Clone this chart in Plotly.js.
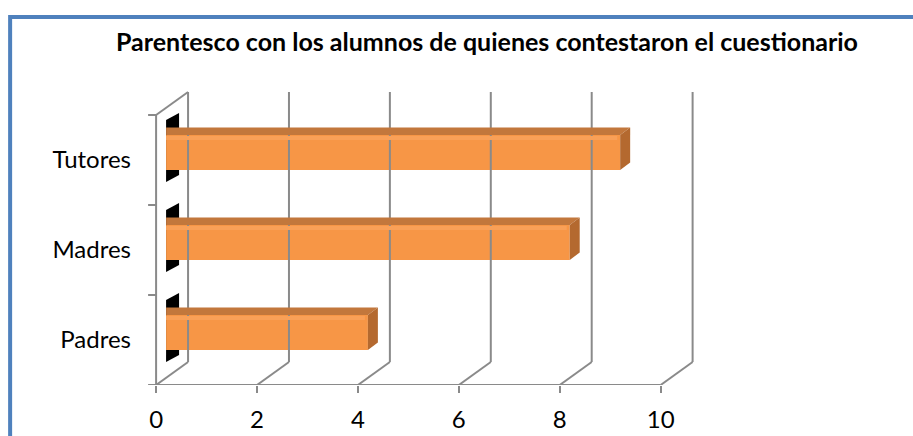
<!DOCTYPE html>
<html>
<head>
<meta charset="utf-8">
<script src="https://cdn.plot.ly/plotly-3.0.1.min.js"></script>
<style>
    html, body { margin: 0; padding: 0; background: #ffffff; }
    #chart { width: 913px; height: 436px; }
</style>
</head>
<body>
<div id="chart"></div>
<script>
const categories = ['Padres', 'Madres', 'Tutores'];
const values = [4, 8, 9];
const xTicks = [0, 2, 4, 6, 8, 10];
const chartTitle = 'Parentesco con los alumnos de quienes contestaron el cuestionario';

// pixel geometry of the plot area (x: 0..10 -> 156..661, one category = 90px)
const MARGIN = { l: 146, r: 211.5, t: 85, b: 51 };
const PX_X = 50.5;
const PX_Y = 90;
const X_RANGE = [-0.2, 10.8];
const Y_RANGE = [-0.5, -0.5 + 300 / PX_Y];

// 3d offsets, in data units
const WALL_DX = 32 / PX_X;
const WALL_DY = 23 / PX_Y;
const BAR_DX = 10 / PX_X;
const BAR_RISE = 7.5 / PX_Y;
const BAR_WIDTH = 35 / PX_Y;
const CAP_DX = 10 / PX_X;
const CAP_DY = 7.5 / PX_Y;

const GRID_COLOR = '#8a8a8a';
const BAR_COLOR = '#f79646';
const TOP_COLOR = '#c2773c';
const SIDE_COLOR = '#b4692f';

const yBottom = -0.5;
const yTop = categories.length - 0.5;

function line(x0, y0, x1, y1) {
    return {
        type: 'line', xref: 'x', yref: 'y',
        x0, y0, x1, y1,
        line: { color: GRID_COLOR, width: 2 },
    };
}

function poly(points, color, layer) {
    const d = points.map((p, i) => `${i === 0 ? 'M' : 'L'}${p[0]},${p[1]}`).join(' ') + ' Z';
    return {
        type: 'path', xref: 'x', yref: 'y', path: d,
        fillcolor: color, line: { width: 0 }, layer: layer || 'above',
    };
}

const shapes = [];

// back wall gridlines and floor diagonals
xTicks.forEach((t) => {
    shapes.push(line(t, yBottom, t + WALL_DX, yBottom + WALL_DY));
    shapes.push(line(t + WALL_DX, yBottom + WALL_DY, t + WALL_DX, yTop + WALL_DY));
});

// floor front edge, left wall
shapes.push(line(xTicks[0], yBottom, xTicks[xTicks.length - 1], yBottom));
shapes.push(line(0, yBottom, 0, yTop));
shapes.push(line(0, yTop, WALL_DX, yTop + WALL_DY));
for (let k = 0; k <= categories.length; k += 1) {
    shapes.push(line(-8 / PX_X, yBottom + k, 0, yBottom + k));
}

// dark end caps behind bars, then top and side faces
categories.forEach((cat, i) => {
    const xl = BAR_DX;
    const xr = BAR_DX + 13 / PX_X;
    const cl = i + 9 / PX_Y;
    const cr = i + 16 / PX_Y;
    const h = 31 / PX_Y;
    shapes.push(poly([[xl, cl + h], [xr, cr + h], [xr, cr - h], [xl, cl - h]], '#000000', 'below'));

    const x0 = BAR_DX;
    const x1 = BAR_DX + values[i];
    const top = i + BAR_RISE + BAR_WIDTH / 2;
    const bottom = i + BAR_RISE - BAR_WIDTH / 2;
    shapes.push(poly([[x0, top], [x1, top], [x1 + CAP_DX, top + CAP_DY], [x0, top + CAP_DY]], TOP_COLOR));
    shapes.push(poly([[x1, top], [x1 + CAP_DX, top + CAP_DY], [x1 + CAP_DX, bottom + CAP_DY], [x1, bottom]], SIDE_COLOR));
    shapes.push(poly([[x0, top - 1 / PX_Y], [x1 - 3 / PX_X, top - 1 / PX_Y], [x1 - 3 / PX_X, top - 5 / PX_Y], [x0, top - 5 / PX_Y]], '#f9a058'));
});

// blue frame around the chart
const plotW = 913 - MARGIN.l - MARGIN.r;
const plotH = 436 - MARGIN.t - MARGIN.b;
shapes.push({
    type: 'rect', xref: 'paper', yref: 'paper',
    x0: (10 - MARGIN.l) / plotW,
    x1: (930 - MARGIN.l) / plotW,
    y0: (385 - 450) / plotH,
    y1: (385 - 17) / plotH,
    line: { color: '#4f81bd', width: 4 },
});

const data = [{
    type: 'bar',
    orientation: 'h',
    x: values,
    base: BAR_DX,
    y: categories.map((c, i) => i + BAR_RISE),
    width: BAR_WIDTH,
    marker: { color: BAR_COLOR, line: { width: 0 } },
    hoverinfo: 'skip',
}];

const layout = {
    width: 913,
    height: 436,
    margin: MARGIN,
    paper_bgcolor: '#ffffff',
    plot_bgcolor: 'rgba(0,0,0,0)',
    showlegend: false,
    font: { family: 'Lato, sans-serif', size: 24, color: '#000000' },
    title: {
        text: chartTitle,
        font: { family: 'Lato, sans-serif', size: 25, color: '#000000', weight: 'bold' },
        xref: 'container', yref: 'container',
        x: 487 / 913, xanchor: 'center',
        y: 1 - 42 / 436, yanchor: 'middle',
    },
    xaxis: {
        range: X_RANGE,
        tickvals: xTicks,
        ticktext: xTicks.map(String),
        showgrid: false,
        zeroline: false,
        showline: false,
        ticks: 'outside',
        ticklen: 7,
        tickwidth: 2,
        tickcolor: GRID_COLOR,
        ticklabelstandoff: 6,
        fixedrange: true,
    },
    yaxis: {
        range: Y_RANGE,
        tickvals: categories.map((c, i) => i),
        ticktext: categories,
        showgrid: false,
        zeroline: false,
        showline: false,
        ticks: '',
        ticklabelstandoff: 14,
        fixedrange: true,
    },
    shapes,
};

Plotly.newPlot('chart', data, layout, { displayModeBar: false, staticPlot: true });
</script>
</body>
</html>
